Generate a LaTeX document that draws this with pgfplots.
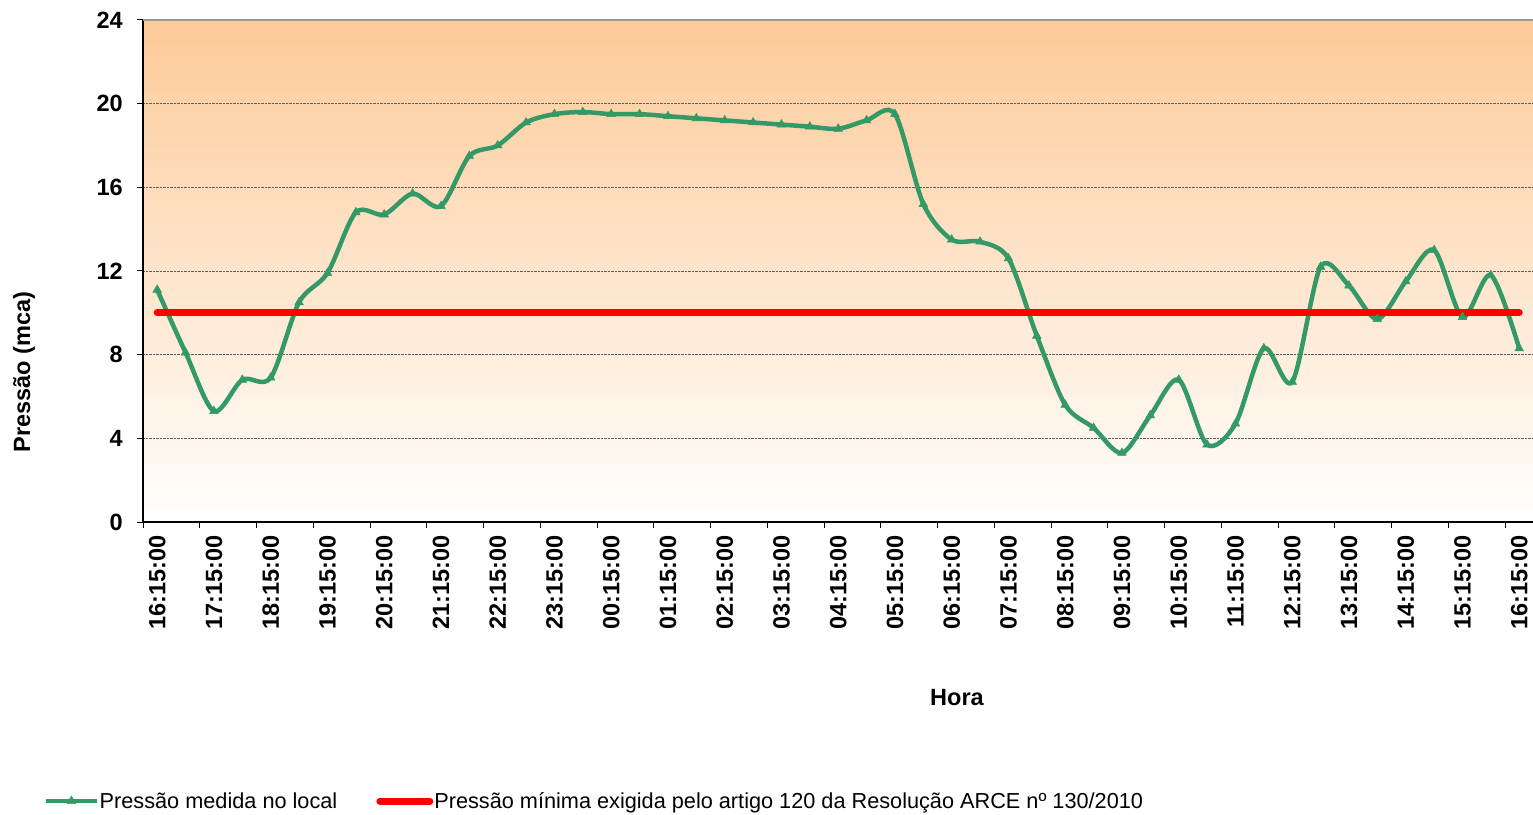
\documentclass[border=0pt]{standalone}
\usepackage{fontspec}
\setmainfont{Liberation Sans}
\usepackage{pgfplots}
\pgfplotsset{compat=1.18}
\definecolor{mgreen}{HTML}{339966}
\definecolor{peach}{HTML}{FDCA98}
\definecolor{gridc}{HTML}{606060}
\newcommand\bigb{\bfseries\fontsize{23.5}{28}\selectfont}
\begin{document}
\begin{tikzpicture}[x=1pt,y=1pt]
\useasboundingbox (0,0) rectangle (1533,814);
\begin{axis}[
 at={(143pt,292pt)}, anchor=south west,
 scale only axis, width=1390.4pt, height=502pt,
 xmin=-0.5, xmax=48.5, ymin=0, ymax=24,
 axis x line*=bottom, axis y line*=left,
 axis line style={black, line width=1.5pt, -},
 axis background/.style={top color=peach, bottom color=white},
 /pgf/number format/assume math mode=true,
 tick label style={font=\bigb},
 xtick={0,2,...,48},
 xticklabels={16:15:00,17:15:00,18:15:00,19:15:00,20:15:00,21:15:00,22:15:00,23:15:00,00:15:00,01:15:00,02:15:00,03:15:00,04:15:00,05:15:00,06:15:00,07:15:00,08:15:00,09:15:00,10:15:00,11:15:00,12:15:00,13:15:00,14:15:00,15:15:00,16:15:00},
 xticklabel style={rotate=90, anchor=east, inner sep=0pt, xshift=-13pt},
 ytick={0,4,...,24},
 yticklabel style={anchor=east, inner sep=0pt, xshift=-20pt},
 major tick length=0pt,
 minor xtick={-0.5,1.5,...,48.5},
 minor ytick={0,4,...,24},
 minor tick length=6pt,
 tick align=outside,
 minor tick style={black, line width=1pt},
 ymajorgrids,
 major grid style={densely dotted, gridc, line width=0.9pt},
 xlabel={Hora}, ylabel={Pressão (mca)},
 label style={font=\bigb},
 xlabel style={at={(axis description cs:0.5854,-0.3506)}, anchor=center},
 ylabel style={at={(axis description cs:-0.0855,0.299)}, anchor=center},
 legend columns=2,
 legend style={at={(axis description cs:-0.0712,-0.5558)}, anchor=west, draw=none, fill=none, inner sep=0pt,
   font=\fontsize{21.7}{26}\selectfont, nodes={inner xsep=1pt, inner ysep=2pt},
   /tikz/every even column/.append style={column sep=38pt}},
 legend cell align=left,
 legend image code/.code={\draw[mark repeat=2,mark phase=2,#1] plot coordinates {(0pt,0pt) (25pt,0pt) (50pt,0pt)};},
 clip=false,
]
\draw[gray!80, line width=1.5pt] (axis cs:-0.5,24) -- (axis cs:48.5,24);
\addplot[mgreen, line width=4.5pt, smooth, mark=triangle*, mark size=5pt, mark options={solid, line width=0.5pt}] coordinates {
(0,11.1) (1,8.1) (2,5.3) (3,6.8) (4,6.9) (5,10.5) (6,11.9) (7,14.8) (8,14.7) (9,15.7)
(10,15.1) (11,17.5) (12,18.0) (13,19.1) (14,19.5) (15,19.6) (16,19.5) (17,19.5) (18,19.4) (19,19.3)
(20,19.2) (21,19.1) (22,19.0) (23,18.9) (24,18.8) (25,19.2) (26,19.5) (27,15.2) (28,13.5) (29,13.4)
(30,12.6) (31,8.9) (32,5.6) (33,4.5) (34,3.3) (35,5.1) (36,6.8) (37,3.7) (38,4.7) (39,8.3)
(40,6.7) (41,12.2) (42,11.3) (43,9.7) (44,11.5) (45,13.0) (46,9.8) (47,11.8) (48,8.3)
};
\addlegendentry{Pressão medida no local}
\addplot[red, line width=7pt, line cap=round] coordinates {(0,10) (48,10)};
\addlegendentry{Pressão mínima exigida pelo artigo 120 da Resolução ARCE nº 130/2010}
\end{axis}
\end{tikzpicture}
\end{document}
